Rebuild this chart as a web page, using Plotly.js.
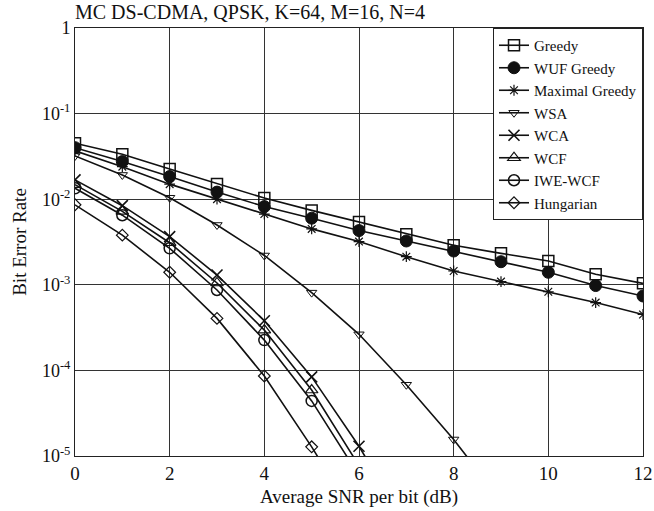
<!DOCTYPE html>
<html>
<head>
<meta charset="utf-8">
<script src="https://cdn.plot.ly/plotly-3.0.1.min.js"></script>
</head>
<body style="margin:0;font-family:'Liberation Serif'">
<div id="chart" style="width:654px;height:511px"></div>
<script>
// Average SNR per bit (dB)
const snr = [0, 1, 2, 3, 4, 5, 6, 7, 8, 9, 10, 11, 12];

// Bit error rate per allocation scheme
const greedy      = [0.045, 0.0336, 0.0226, 0.0151, 0.0103, 0.0074, 0.0054, 0.0039, 0.0029, 0.00233, 0.0019, 0.00133, 0.00104];
const wufGreedy   = [0.040, 0.0275, 0.0184, 0.0121, 0.0082, 0.0060, 0.0043, 0.00325, 0.00248, 0.00186, 0.0014, 0.00098, 0.00074];
const maxGreedy   = [0.0367, 0.024, 0.015, 0.0100, 0.0067, 0.0045, 0.0032, 0.00213, 0.00145, 0.00109, 0.00083, 0.00062, 0.00045];
const wsaSnr      = [0, 1, 2, 3, 4, 5, 6, 7, 8, 9];
const wsa         = [0.032, 0.0192, 0.0104, 0.0050, 0.0022, 0.00081, 0.000264, 6.8e-5, 1.56e-5, 3.0e-6];
const lowSnr      = [0, 1, 2, 3, 4, 5, 6, 7];
const wca         = [0.0168, 0.0084, 0.00366, 0.0013, 0.00038, 8.4e-5, 1.3e-5, 1.5e-6];
const wcf         = [0.0148, 0.0072, 0.0031, 0.00105, 0.000296, 5.9e-5, 7.7e-6, 8e-7];
const iweWcf      = [0.0134, 0.0065, 0.00267, 0.00087, 0.000226, 4.4e-5, 5.9e-6, 6e-7];
const hungSnr     = [0, 1, 2, 3, 4, 5, 6];
const hungarian   = [0.0086, 0.0038, 0.0014, 0.000405, 8.6e-5, 1.28e-5, 1.6e-6];

// Axis ticks
const xTicks = [0, 2, 4, 6, 8, 10, 12];
const yTickVals = [1e-5, 1e-4, 1e-3, 1e-2, 1e-1, 1];
const yTickText = ['10<sup>-5</sup>', '10<sup>-4</sup>', '10<sup>-3</sup>', '10<sup>-2</sup>', '10<sup>-1</sup>', '1'];

const FAMILY = 'Liberation Serif';
const INK = '#111111';

function series(name, x, y, symbol, size, width) {
  return {
    type: 'scatter',
    mode: 'lines+markers',
    name: name,
    x: x,
    y: y,
    line: { color: INK, width: 1.6 },
    marker: {
      symbol: symbol,
      size: size,
      color: INK,
      line: { color: INK, width: width }
    }
  };
}

const traces = [
  series('Greedy', snr, greedy, 'square-open', 11, 1.5),
  series('WUF Greedy', snr, wufGreedy, 'circle', 12, 1),
  series('Maximal Greedy', snr, maxGreedy, 'asterisk-open', 9, 1.2),
  series('WSA', wsaSnr, wsa, 'triangle-down-open', 9, 1),
  series('WCA', lowSnr, wca, 'x-thin-open', 11, 1.6),
  series('WCF', lowSnr, wcf, 'triangle-up-open', 11, 1.2),
  series('IWE-WCF', lowSnr, iweWcf, 'circle-open', 11, 1.5),
  series('Hungarian', hungSnr, hungarian, 'diamond-open', 9, 1.2)
];

const layout = {
  width: 654,
  height: 511,
  margin: { l: 75, r: 11, t: 28, b: 55 },
  paper_bgcolor: '#ffffff',
  plot_bgcolor: '#ffffff',
  font: { family: FAMILY, size: 18, color: INK },
  title: {
    text: 'MC DS-CDMA, QPSK, K=64, M=16, N=4',
    font: { family: FAMILY, size: 20 },
    xref: 'paper', x: 0, xanchor: 'left',
    yref: 'container', y: 0.976, yanchor: 'middle'
  },
  xaxis: {
    range: [0, 12],
    tickvals: xTicks,
    ticktext: xTicks.map(String),
    tickfont: { family: FAMILY, size: 19 },
    showline: true, mirror: true, linecolor: '#222', linewidth: 1,
    showgrid: true, gridcolor: '#333', gridwidth: 1, zeroline: false, ticks: '',
    title: { text: 'Average SNR per bit (dB)', font: { family: FAMILY, size: 19 }, standoff: 6 }
  },
  yaxis: {
    type: 'log',
    range: [-5, 0],
    tickvals: yTickVals,
    ticktext: yTickText,
    tickfont: { family: FAMILY, size: 18 },
    showline: true, mirror: true, linecolor: '#222', linewidth: 1,
    showgrid: true, gridcolor: '#333', gridwidth: 1, zeroline: false, ticks: '',
    title: { text: 'Bit Error Rate', font: { family: FAMILY, size: 19 }, standoff: 10 }
  },
  showlegend: true,
  legend: {
    x: 1, xanchor: 'right',
    y: 1, yanchor: 'top',
    bgcolor: '#ffffff',
    bordercolor: '#222',
    borderwidth: 1,
    font: { family: FAMILY, size: 15 },
    tracegroupgap: 0
  }
};

Plotly.newPlot('chart', traces, layout, { staticPlot: true });
</script>
</body>
</html>
